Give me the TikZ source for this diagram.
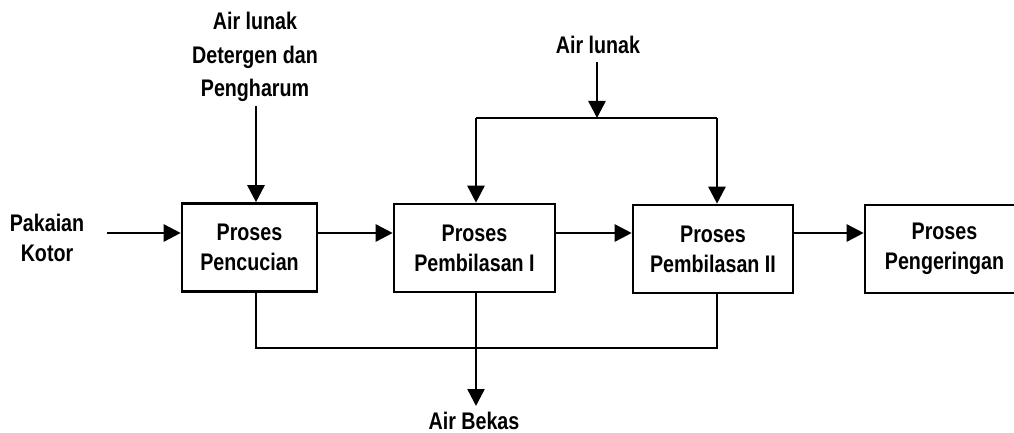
\documentclass[tikz,border=0pt]{standalone}
\usepackage{fontspec}
\setmainfont{Liberation Sans}
\newfontfamily\narrowfont{Liberation Sans Bold}[FakeStretch=0.82]
\usetikzlibrary{arrows.meta}
\tikzset{
  proc/.style={draw, line width=2.6pt, minimum width=#1, minimum height=88pt, align=center, inner sep=0pt, font=\narrowfont\fontsize{24}{30}\selectfont},
  lbl/.style={align=center, inner sep=0pt, font=\narrowfont\fontsize{24}{#1}\selectfont},
  lbl/.default=30,
  flow/.style={line width=2.6pt, -{Triangle[length=17pt,width=17pt]}},
  wire/.style={line width=2.6pt}
}
\begin{document}
\begin{tikzpicture}[x=1pt,y=-1pt]
\useasboundingbox (0,0) rectangle (1014,433);
\clip (0,0) rectangle (1014,433);
% boxes
\node[proc=135pt] (p1) at (249.5,247.5) {Proses\\Pencucian};
\node[proc=161pt] (p2) at (474.5,248) {Proses\\Pembilasan I};
\node[proc=160pt] (p3) at (713,249) {Proses\\Pembilasan II};
\node[proc=159pt] (p4) at (944.5,249) {Proses\\Pengeringan};
% labels
\node[lbl] (pk) at (47,238) {Pakaian\\Kotor};
\node[lbl=33.5] (top1) at (255,57) {Air lunak\\Detergen dan\\Pengharum};
\node[lbl] (top2) at (598,45) {Air lunak};
\node[lbl] (ab) at (474,421) {Air Bekas};
% coordinates
\coordinate (pkE) at (107,233);
\coordinate (t1S) at (256,106);
\coordinate (t2S) at (597,62);
\coordinate (j) at (597,118);
\coordinate (jl) at (476,118);
\coordinate (jr) at (717,118);
\coordinate (bl) at (256,348);
\coordinate (br) at (717,348);
\coordinate (bm) at (476,348);
% arrows
\draw[flow] (pkE) -- (pkE -| p1.west);
\draw[flow] (t1S) -- (t1S |- p1.north);
\draw[flow] (p1.east |- pkE) -- (p2.west |- pkE);
\draw[flow] (p2.east |- pkE) -- (p3.west |- pkE);
\draw[flow] (p3.east |- pkE) -- (p4.west |- pkE);
\draw[flow] (t2S) -- (j);
\draw[wire] (jl) -- (jr);
\draw[flow] (jl) -- (jl |- p2.north);
\draw[flow] (jr) -- (jr |- p3.north);
\draw[wire] (bl |- p1.south) -- (bl) -- (br) -- (br |- p3.south);
\draw[flow] (bm |- p2.south) -- (476,406);
\end{tikzpicture}
\end{document}
